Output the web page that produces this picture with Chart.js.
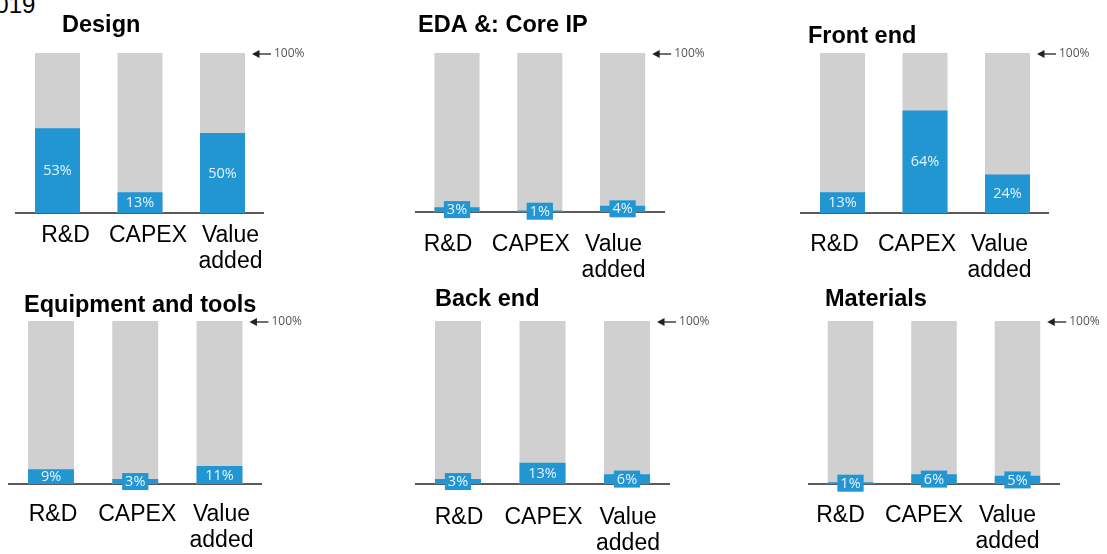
<!DOCTYPE html>
<html>
<head>
<meta charset="utf-8">
<script src="https://cdn.jsdelivr.net/npm/chart.js@4.4.0/dist/chart.umd.min.js"></script>
<style>
html,body{margin:0;padding:0;background:#fff;width:1107px;height:554px;overflow:hidden;position:relative}
canvas{position:absolute;left:0;top:0}
#yr{position:absolute;left:-18px;top:-7px;font:24px/24px "Liberation Sans",Arial,sans-serif;color:#000;white-space:nowrap}
</style>
</head>
<body>
<div id="yr">2019</div>
<canvas id="c0" width="1107" height="620"></canvas>
<canvas id="c1" width="1107" height="620"></canvas>
<canvas id="c2" width="1107" height="620"></canvas>
<canvas id="c3" width="1107" height="620"></canvas>
<canvas id="c4" width="1107" height="620"></canvas>
<canvas id="c5" width="1107" height="620"></canvas>
<script>
// ---- data ----
const categories = ['R&D', 'CAPEX', ['Value', 'added']];
const fullScale = [100, 100, 100];
const designShare = [53, 13, 50];
const edaCoreIpShare = [3, 1, 4];
const frontEndShare = [13, 64, 24];
const equipmentToolsShare = [9, 3, 11];
const backEndShare = [3, 13, 6];
const materialsShare = [1, 6, 5];
const panelTitles = ['Design', 'EDA &: Core IP', 'Front end', 'Equipment and tools', 'Back end', 'Materials'];
const panelSeries = [designShare, edaCoreIpShare, frontEndShare, equipmentToolsShare, backEndShare, materialsShare];
const refLabel = '100%';

// ---- styles / layout ----
const BLUE = '#2196d3', GREY = '#d0d0d0';
const W = 1107, H = 620, XH = 90;
const panelBoxes = [
  {l:16.25, r:263.75, t:53, b:213, tickPad:9.5, shift:8, dx:45.75, dy:-21},
  {l:415.6, r:664.0, t:53, b:212, tickPad:20, shift:-9, dx:2.4, dy:-21},
  {l:801.25, r:1048.75, t:53, b:213, tickPad:19, shift:-8, dx:6.75, dy:-10},
  {l:8.9, r:261.6, t:321, b:484, tickPad:17.5, shift:2, dx:15.1, dy:-9},
  {l:415.75, r:669.25, t:321, b:484, tickPad:21, shift:1, dx:19.25, dy:-15},
  {l:808.75, r:1059.25, t:321, b:484, tickPad:19, shift:-10, dx:16.25, dy:-15}
];

const decor = {
  id: 'decor',
  afterDraw(chart, args, o) {
    const ctx = chart.ctx, area = chart.chartArea;
    ctx.save();
    // title
    ctx.font = 'bold 23.5px "Liberation Sans", Arial, sans-serif';
    ctx.fillStyle = '#000';
    ctx.textAlign = 'left';
    ctx.textBaseline = 'alphabetic';
    ctx.fillText(o.title, area.left + o.dx, area.top + o.dy);
    // value labels
    const meta = chart.getDatasetMeta(0);
    const vals = chart.data.datasets[0].data;
    ctx.font = '14.5px "Open Sans", sans-serif';
    ctx.textAlign = 'center';
    ctx.textBaseline = 'middle';
    meta.data.forEach((bar, i) => {
      const txt = vals[i] + '%';
      const h = bar.base - bar.y;
      const cy = (bar.y + bar.base) / 2;
      if (h < 12) {
        const w = ctx.measureText(txt).width + 6;
        ctx.fillStyle = BLUE;
        ctx.fillRect(bar.x - w / 2, cy - 8.5, w, 17);
      }
      ctx.fillStyle = '#e6f3fb';
      ctx.fillText(txt, bar.x, cy + 0.5);
    });
    // 100% marker
    const g = chart.getDatasetMeta(1).data[2];
    const x0 = g.x + g.width / 2 + 7;
    const y = chart.scales.y.getPixelForValue(100) + 1;
    ctx.strokeStyle = '#222';
    ctx.fillStyle = '#222';
    ctx.lineWidth = 1.3;
    ctx.beginPath(); ctx.moveTo(x0 + 5, y); ctx.lineTo(x0 + 19, y); ctx.stroke();
    ctx.beginPath(); ctx.moveTo(x0, y); ctx.lineTo(x0 + 7.5, y - 4); ctx.lineTo(x0 + 7.5, y + 4); ctx.closePath(); ctx.fill();
    ctx.font = '12px "Open Sans", sans-serif';
    ctx.fillStyle = '#555';
    ctx.textAlign = 'left';
    ctx.fillText(refLabel, x0 + 22, y);
    ctx.restore();
  }
};

panelSeries.forEach((series, k) => {
  const b = panelBoxes[k];
  new Chart(document.getElementById('c' + k), {
    type: 'bar',
    data: {
      labels: categories,
      datasets: [
        {label: 'Share', data: series, backgroundColor: BLUE, grouped: false, barPercentage: 0.545, categoryPercentage: 1},
        {label: 'Total', data: fullScale, backgroundColor: GREY, grouped: false, barPercentage: 0.545, categoryPercentage: 1}
      ]
    },
    options: {
      responsive: false,
      animation: false,
      devicePixelRatio: 1,
      layout: {padding: {left: b.l, right: W - b.r, top: b.t, bottom: H - b.b - XH}},
      plugins: {
        legend: {display: false},
        title: {display: false},
        tooltip: {enabled: false},
        decor: {title: panelTitles[k], dx: b.dx, dy: b.dy}
      },
      scales: {
        x: {
          z: 1,
          grid: {display: false, drawTicks: false},
          border: {display: true, color: '#5a5a5a', width: 2},
          ticks: {
            color: '#000',
            font: {family: '"Liberation Sans", Arial, sans-serif', size: 23, lineHeight: '26px'},
            padding: b.tickPad,
            labelOffset: b.shift,
            maxRotation: 0,
            minRotation: 0,
            autoSkip: false
          },
          afterFit: s => { s.height = XH; }
        },
        y: {display: false, min: 0, max: 100}
      }
    },
    plugins: [decor]
  });
});
</script>
</body>
</html>
